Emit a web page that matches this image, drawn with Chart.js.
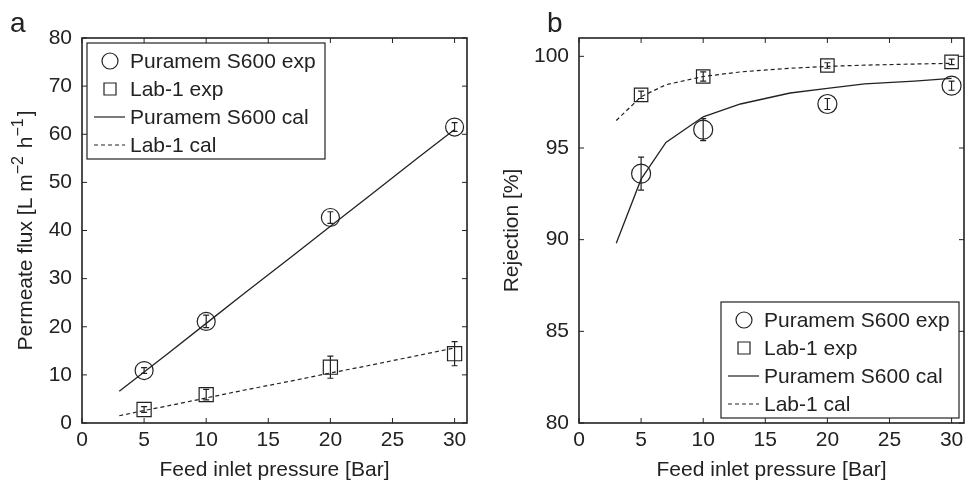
<!DOCTYPE html>
<html>
<head>
<meta charset="utf-8">
<script src="https://cdn.jsdelivr.net/npm/chart.js@4.4.1/dist/chart.umd.min.js"></script>
<style>
  body { margin: 0; background: #fff; }
  #wrap { position: relative; width: 965px; height: 484px; overflow: hidden; }
  canvas { position: absolute; top: 0; }
</style>
</head>
<body>
<div id="wrap">
  <canvas id="fluxChart" width="482" height="484" style="left:0"></canvas>
  <canvas id="rejChart" width="500" height="484" style="left:482px"></canvas>
</div>
<script>
// measured points (feed pressure, bar)
const pressureExp = [5, 10, 20, 30];
const pressureCal = [3, 5, 7, 10, 13, 17, 20, 23, 27, 30];

// panel a: permeate flux
const fluxPuramemExp = [10.9, 21.1, 42.7, 61.5];
const fluxPuramemErr = [0.6, 1.3, 1.2, 0.9];
const fluxLabExp = [2.8, 5.9, 11.6, 14.4];
const fluxLabErr = [0.6, 1.1, 2.3, 2.5];
const fluxPuramemCal = [6.6, 10.6, 14.6, 20.7, 26.8, 34.8, 40.9, 46.9, 55.0, 61.0];
const fluxLabCal = [1.5, 2.6, 3.6, 5.2, 6.8, 8.8, 10.4, 11.9, 14.0, 15.6];

// panel b: rejection
const rejPuramemExp = [93.6, 96.0, 97.4, 98.4];
const rejPuramemErr = [0.9, 0.6, 0.3, 0.25];
const rejLabExp = [97.9, 98.9, 99.5, 99.7];
const rejLabErr = [0.2, 0.25, 0.15, 0.15];
const rejPuramemCal = [89.8, 93.3, 95.3, 96.7, 97.4, 98.0, 98.25, 98.5, 98.65, 98.8];
const rejLabCal = [96.5, 97.8, 98.45, 98.9, 99.15, 99.35, 99.45, 99.52, 99.58, 99.62];

const xTicksStep = 5;
const labels = ["Puramem S600 exp", "Lab-1 exp", "Puramem S600 cal", "Lab-1 cal"];

const ink = "#222";
const fam = "'Liberation Sans', Arial, sans-serif";

function pts(xs, ys) {
  return xs.map((x, i) => ({ x: x, y: ys[i] }));
}

function makeDatasets(expA, errA, expB, errB, calA, calB, rc, rs) {
  return [
    { label: labels[0], data: pts(pressureExp, expA), errors: errA, pointStyle: "circle",
      pointRadius: rc, borderColor: ink, backgroundColor: "rgba(0,0,0,0)", borderWidth: 1.2, showLine: false },
    { label: labels[1], data: pts(pressureExp, expB), errors: errB, pointStyle: "rect",
      pointRadius: rs, borderColor: ink, backgroundColor: "rgba(0,0,0,0)", borderWidth: 1.2, showLine: false },
    { label: labels[2], data: pts(pressureCal, calA), showLine: true, pointRadius: 0,
      borderColor: ink, borderWidth: 1.3, tension: 0 },
    { label: labels[3], data: pts(pressureCal, calB), showLine: true, pointRadius: 0,
      borderColor: ink, borderWidth: 1.2, borderDash: [4, 3], tension: 0 },
  ];
}

// box, inward ticks, error bars, titles and legend
const framePlugin = {
  id: "frame",
  afterDraw(chart, args, opts) {
    const ctx = chart.ctx;
    const a = chart.chartArea;
    const xs = chart.scales.x, ys = chart.scales.y;
    ctx.save();
    ctx.strokeStyle = ink;
    ctx.fillStyle = ink;

    // error bars
    ctx.lineWidth = 1.2;
    chart.data.datasets.forEach((ds) => {
      if (!ds.errors) return;
      ds.data.forEach((p, j) => {
        const px = xs.getPixelForValue(p.x);
        const t = ys.getPixelForValue(p.y + ds.errors[j]);
        const b = ys.getPixelForValue(p.y - ds.errors[j]);
        ctx.beginPath();
        ctx.moveTo(px, t); ctx.lineTo(px, b);
        ctx.moveTo(px - 3, t); ctx.lineTo(px + 3, t);
        ctx.moveTo(px - 3, b); ctx.lineTo(px + 3, b);
        ctx.stroke();
      });
    });

    // axes box
    ctx.lineWidth = 1.6;
    ctx.strokeRect(a.left, a.top, a.right - a.left, a.bottom - a.top);
    ctx.lineWidth = 1;
    ctx.beginPath();
    xs.ticks.forEach((tk) => {
      const px = xs.getPixelForValue(tk.value);
      ctx.moveTo(px, a.bottom); ctx.lineTo(px, a.bottom - 5);
      ctx.moveTo(px, a.top); ctx.lineTo(px, a.top + 5);
    });
    ys.ticks.forEach((tk) => {
      const py = ys.getPixelForValue(tk.value);
      ctx.moveTo(a.left, py); ctx.lineTo(a.left + 5, py);
      ctx.moveTo(a.right, py); ctx.lineTo(a.right - 5, py);
    });
    ctx.stroke();

    // x title
    ctx.font = "21px " + fam;
    ctx.textAlign = "center";
    ctx.textBaseline = "alphabetic";
    ctx.fillText("Feed inlet pressure [Bar]", (a.left + a.right) / 2, 476);

    // y title (pieces so superscripts work)
    ctx.save();
    ctx.translate(opts.yTitleX, (a.top + a.bottom) / 2);
    ctx.rotate(-Math.PI / 2);
    ctx.textAlign = "left";
    const gap = 2;
    let w = 0;
    opts.yTitle.forEach((part) => {
      ctx.font = (part.sup ? "16px " : "21px ") + fam;
      w += ctx.measureText(part.t).width + (part.sup ? gap : 0);
    });
    let cx = -w / 2;
    opts.yTitle.forEach((part) => {
      ctx.font = (part.sup ? "16px " : "21px ") + fam;
      ctx.fillText(part.t, cx, part.sup ? -9 : 0);
      cx += ctx.measureText(part.t).width + (part.sup ? gap : 0);
    });
    ctx.restore();

    // panel letter
    ctx.font = "28px " + fam;
    ctx.textAlign = "left";
    ctx.fillText(opts.letter, opts.letterX, 32);

    // legend
    const lx = opts.legendRight ? a.right - 5 - 238 : a.left + 5;
    const ly = opts.legendRight ? a.bottom - 5 - 116 : a.top + 5;
    ctx.fillStyle = "#fff";
    ctx.fillRect(lx, ly, 238, 116);
    ctx.fillStyle = ink;
    ctx.lineWidth = 1.2;
    ctx.strokeRect(lx, ly, 238, 116);
    ctx.font = "21px " + fam;
    ctx.textBaseline = "middle";
    chart.data.datasets.forEach((ds, i) => {
      const ry = ly + 18 + i * 28;
      const sx = lx + 23;
      ctx.lineWidth = 1.2;
      ctx.setLineDash(ds.borderDash || []);
      ctx.beginPath();
      if (ds.showLine) {
        ctx.moveTo(lx + 7, ry); ctx.lineTo(lx + 38, ry);
      } else if (ds.pointStyle === "circle") {
        ctx.arc(sx, ry, 8, 0, Math.PI * 2);
      } else {
        ctx.rect(sx - 6, ry - 6, 12, 12);
      }
      ctx.stroke();
      ctx.setLineDash([]);
      ctx.fillText(ds.label, lx + 43, ry + 1);
    });
    ctx.restore();
  }
};

function fixX(s) {
  s.height = 61;
  s.paddingLeft = 0;
  s.paddingRight = 0;
}

function makeOptions(yMin, yMax, yStep, yWidth, padRight, frame) {
  return {
    responsive: false,
    animation: false,
    devicePixelRatio: 1,
    layout: { padding: { left: 0, right: padRight, top: 38, bottom: 0 } },
    plugins: { legend: { display: false }, tooltip: { enabled: false }, frame: frame },
    scales: {
      x: {
        type: "linear", min: 0, max: 31,
        ticks: { stepSize: xTicksStep, includeBounds: false, color: ink, padding: 5,
                 font: { family: fam, size: 21 } },
        grid: { display: false, drawTicks: false },
        border: { display: false },
        afterFit: fixX,
      },
      y: {
        type: "linear", min: yMin, max: yMax,
        ticks: { stepSize: yStep, includeBounds: false, color: ink, padding: 10,
                 font: { family: fam, size: 21 } },
        grid: { display: false, drawTicks: false },
        border: { display: false },
        afterFit(s) { s.width = yWidth; s.paddingTop = 0; s.paddingBottom = 0; },
      },
    },
  };
}

new Chart(document.getElementById("fluxChart"), {
  type: "scatter",
  data: { datasets: makeDatasets(fluxPuramemExp, fluxPuramemErr, fluxLabExp, fluxLabErr,
                                 fluxPuramemCal, fluxLabCal, 9, 10) },
  options: makeOptions(0, 80, 10, 82, 15, {
    letter: "a", letterX: 10, yTitleX: 32, legendRight: false,
    yTitle: [{ t: "Permeate flux [L m" }, { t: "\u22122", sup: true }, { t: " h" },
             { t: "\u22121", sup: true }, { t: "]" }],
  }),
  plugins: [framePlugin],
});

// canvas runs past the window edge so the plot box reaches x = 964
new Chart(document.getElementById("rejChart"), {
  type: "scatter",
  data: { datasets: makeDatasets(rejPuramemExp, rejPuramemErr, rejLabExp, rejLabErr,
                                 rejPuramemCal, rejLabCal, 9.5, 9.5) },
  options: makeOptions(80, 101, 5, 97, 18, {
    letter: "b", letterX: 65, yTitleX: 36, legendRight: true,
    yTitle: [{ t: "Rejection [%]" }],
  }),
  plugins: [framePlugin],
});
</script>
</body>
</html>
